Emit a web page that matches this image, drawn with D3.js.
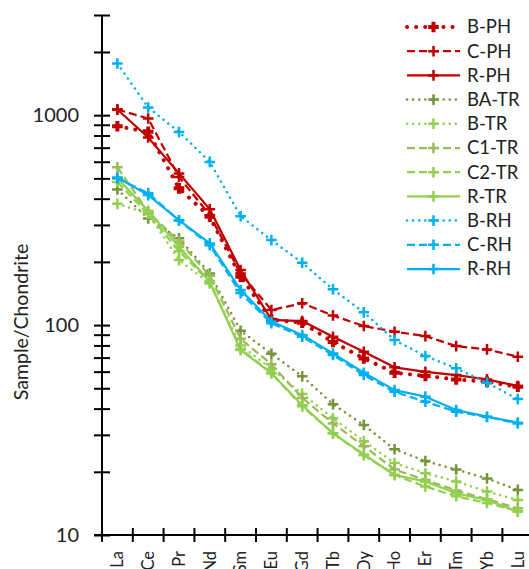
<!DOCTYPE html>
<html>
<head>
<meta charset="utf-8">
<script src="https://cdnjs.cloudflare.com/ajax/libs/d3/7.8.5/d3.min.js"></script>
<style>
  body { margin: 0; background: #fff; }
  svg { display: block; font-family: Lato, "Open Sans", sans-serif; }
</style>
</head>
<body>
<div id="chart-area"></div>
<script>

// REE names (x categories)
var elements = ["La", "Ce", "Pr", "Nd", "Sm", "Eu", "Gd", "Tb", "Dy", "Ho", "Er", "Tm", "Yb", "Lu"];

// chondrite-normalised values
var bPH  = [886, 833, 448, 328, 170, 106, 102.6, 83, 69.4, 59.3, 57.2, 55.1, 53.7, 50.8];
var cPH  = [1064, 964, 508, 334, 176, 118, 127, 111, 99, 93, 88.6, 79.4, 76.6, 70.7];
var rPH  = [1064, 783, 528, 356, 183, 106, 104.5, 88, 74.6, 62.9, 59.9, 57.8, 55.1, 51.3];
var baTR = [443, 322, 259, 176, 94, 73, 57, 42, 33.4, 25.6, 22.5, 20.5, 18.6, 16.4];
var bTR  = [378, 340, 204, 158, 80, 62, 47, 36, 28, 22, 19.7, 18, 16.1, 14.7];
var c1TR = [564, 346, 250, 172, 86, 65, 45, 34, 26.5, 20.5, 18.3, 16.3, 14.8, 13.4];
var c2TR = [480, 338, 225, 160, 77, 59, 41, 30.5, 24, 19.3, 17, 15.3, 14.2, 13];
var rTR  = [500, 350, 236, 161, 76, 59, 41.5, 30.5, 24.2, 19.3, 18, 15.8, 14.7, 12.9];
var bRH  = [1762, 1088, 832, 599, 330, 254, 198, 148, 115, 84.8, 71.2, 62.2, 53.1, 44.4];
var cRH  = [500, 425, 315, 240, 142, 102, 88, 72, 57.8, 48.1, 43.1, 38.7, 36.5, 34];
var rRH  = [505, 416, 316, 245, 147, 104, 89.6, 73.3, 59.3, 49, 45.6, 39.4, 36.6, 34.3];

var seriesNames = ["B-PH", "C-PH", "R-PH", "BA-TR", "B-TR", "C1-TR", "C2-TR", "R-TR", "B-RH", "C-RH", "R-RH"];
var seriesValues = [bPH, cPH, rPH, baTR, bTR, c1TR, c2TR, rTR, bRH, cRH, rRH];

// y ticks (log scale)
var yTicks = [10, 20, 30, 40, 50, 60, 70, 80, 90, 100, 200, 300, 400, 500, 600, 700, 800, 900, 1000, 2000, 3000];
var yLabels = [10, 100, 1000];

// line styles per series
var red = "#C00000", olive = "#77933C", lime = "#92D050", sage = "#9BBB59", blue = "#00B0F0";
var styles = [
    { color: red,   dash: "0.1,9", cap: "round", width: 4,   mark: 4 },
    { color: red,   dash: "8,4",   cap: "butt",  width: 2.25, mark: 2.5 },
    { color: red,   dash: null,    cap: "butt",  width: 2.25, mark: 2.5 },
    { color: olive, dash: "0.1,6", cap: "round", width: 2.5, mark: 2.5 },
    { color: lime,  dash: "0.1,6", cap: "round", width: 2.5, mark: 2.5 },
    { color: sage,  dash: "8,4",   cap: "butt",  width: 2.25, mark: 2.5 },
    { color: lime,  dash: "8,4",   cap: "butt",  width: 2.25, mark: 2.5 },
    { color: lime,  dash: null,    cap: "butt",  width: 2.25, mark: 2.5 },
    { color: blue,  dash: "0.1,6", cap: "round", width: 2.5, mark: 2.5 },
    { color: blue,  dash: "8,4",   cap: "butt",  width: 2.25, mark: 2.5 },
    { color: blue,  dash: null,    cap: "butt",  width: 2.25, mark: 2.5 }
];

var W = 529, H = 569;
var margin = { left: 102, top: 15 },
    height = 535 - margin.top,
    width = 30.8 * elements.length;

var svg = d3.select("#chart-area").append("svg")
    .attr("width", W)
    .attr("height", H);

var g = svg.append("g")
    .attr("transform", "translate(" + margin.left + "," + margin.top + ")");

// Scales
var x = d3.scaleBand().domain(elements).range([0, width]).padding(0);
var y = d3.scaleLog().domain([10, 3000]).range([height, 0]);

// Y axis
var yAxisCall = d3.axisLeft(y)
    .tickValues(yTicks)
    .tickSize(8)
    .tickPadding(15)
    .tickFormat(function(d) { return yLabels.indexOf(d) >= 0 ? d : ""; });

var yAxis = g.append("g").attr("class", "y axis").call(yAxisCall);
yAxis.select(".domain").attr("stroke", "#000").attr("stroke-width", 2).attr("d", "M0," + height + "V0");
yAxis.selectAll(".tick line").attr("x1", 8).attr("stroke", "#000").attr("stroke-width", 2);
yAxis.selectAll(".tick text")
    .attr("font-size", "20px")
    .attr("font-family", "Lato, sans-serif")
    .attr("fill", "#222");

// X axis (ticks between categories)
var xAxis = g.append("g").attr("class", "x axis")
    .attr("transform", "translate(0," + height + ")");

xAxis.append("line")
    .attr("x1", -8).attr("x2", width)
    .attr("stroke", "#000").attr("stroke-width", 2);

var edges = elements.map(function(d) { return x(d); }).concat([x.range()[1]]);
xAxis.selectAll(".xtick").data(edges).enter().append("line")
    .attr("class", "xtick")
    .attr("x1", function(d) { return d; }).attr("x2", function(d) { return d; })
    .attr("y1", -7).attr("y2", 7)
    .attr("stroke", "#000").attr("stroke-width", 2);

// labels run past the bottom edge, as in the original
xAxis.selectAll(".xlabel").data(elements).enter().append("text")
    .attr("class", "xlabel")
    .attr("transform", function(d) {
        return "translate(" + (x(d) + x.bandwidth() / 2) + ",16) rotate(-90)";
    })
    .attr("text-anchor", "end")
    .attr("dy", "0.35em")
    .attr("font-size", "16.5px")
    .attr("fill", "#222")
    .text(function(d) { return d; });

// Y label
svg.append("text")
    .attr("transform", "translate(21,322) rotate(-90)")
    .attr("text-anchor", "middle")
    .attr("dy", "0.35em")
    .attr("font-size", "19.5px")
    .attr("fill", "#222")
    .text("Sample/Chondrite");

// plus marker path
function plus(cx, cy, r) {
    return "M" + (cx - r) + "," + cy + "H" + (cx + r) + "M" + cx + "," + (cy - r) + "V" + (cy + r);
}

var line = d3.line()
    .x(function(d, i) { return x(elements[i]) + x.bandwidth() / 2; })
    .y(function(d) { return y(d); });

seriesValues.forEach(function(vals, k) {
    var s = styles[k];
    var sg = g.append("g").attr("class", "series");
    sg.append("path")
        .attr("d", line(vals))
        .attr("fill", "none")
        .attr("stroke", s.color)
        .attr("stroke-width", s.width)
        .attr("stroke-dasharray", s.dash)
        .attr("stroke-linecap", s.cap)
        .attr("stroke-linejoin", "round");
    sg.selectAll(".mark").data(vals).enter().append("path")
        .attr("class", "mark")
        .attr("d", function(d, i) {
            return plus(x(elements[i]) + x.bandwidth() / 2, y(d), 5.3);
        })
        .attr("stroke", s.color)
        .attr("stroke-width", s.mark)
        .attr("fill", "none");
});

// Legend
var legend = svg.append("g").attr("transform", "translate(407,27)");
seriesNames.forEach(function(name, k) {
    var s = styles[k];
    var row = legend.append("g").attr("transform", "translate(0," + (k * 24.2) + ")");
    row.append("line")
        .attr("x1", 0).attr("x2", 53)
        .attr("stroke", s.color)
        .attr("stroke-width", s.width)
        .attr("stroke-dasharray", s.dash)
        .attr("stroke-linecap", s.cap);
    row.append("path")
        .attr("d", plus(26.5, 0, 5.3))
        .attr("stroke", s.color)
        .attr("stroke-width", s.mark)
        .attr("fill", "none");
    row.append("text")
        .attr("x", 60)
        .attr("dy", "0.35em")
        .attr("font-size", "18.5px")
        .attr("fill", "#222")
        .text(name);
});

</script>
</body>
</html>
